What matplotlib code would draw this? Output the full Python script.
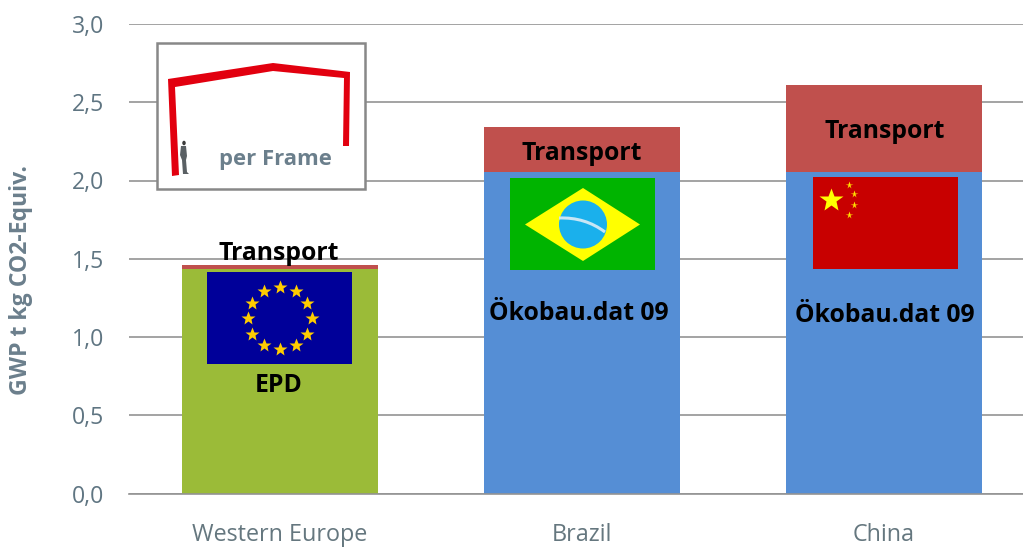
import numpy as np
import matplotlib
matplotlib.use("Agg")
import matplotlib.pyplot as plt
from matplotlib.patches import Rectangle, Polygon, Circle, Ellipse
from matplotlib.path import Path
from matplotlib.patches import PathPatch

categories = ["Western Europe", "Brazil", "China"]
base_values = [1.435, 2.055, 2.055]
transport_values = [0.025, 0.285, 0.555]
base_colors = ["#9bbb38", "#558ed5", "#558ed5"]
transport_color = "#c0504d"
y_ticks = [0.0, 0.5, 1.0, 1.5, 2.0, 2.5, 3.0]
y_tick_labels = ["0,0", "0,5", "1,0", "1,5", "2,0", "2,5", "3,0"]
y_label = "GWP t kg CO2-Equiv."
transport_label = "Transport"
base_labels = ["EPD", "Ökobau.dat 09", "Ökobau.dat 09"]
frame_label = "per Frame"

W, H = 1023, 547
plt.rcParams['font.family'] = ['Open Sans', 'DejaVu Sans']
fig = plt.figure(figsize=(W / 100, H / 100), dpi=100, facecolor="white")

# main axes: pixel extents from the reference
left, right, top, bottom = 129.0, 1023, 24.0, 493.5
ax = fig.add_axes([left / W, 1 - bottom / H, (right - left) / W, (bottom - top) / H])
ax.set_xlim(-0.5, (right - left) / 302 - 0.5)
ax.set_ylim(0, 3.0)
x = np.arange(len(categories))
ax.set_axisbelow(True)
ax.yaxis.grid(True, color="#939393", lw=1.2)
ax.xaxis.grid(False)
for s in ["top", "right", "left"]:
    ax.spines[s].set_visible(False)
ax.spines["bottom"].set_color("#939393")
ax.spines["bottom"].set_linewidth(1.2)
ax.bar(x, base_values, width=0.646, color=base_colors, zorder=2)
ax.bar(x, transport_values, width=0.646, bottom=base_values, color=transport_color, zorder=2)
ax.set_yticks(y_ticks, y_tick_labels)
ax.set_xticks(x, categories)
ax.tick_params(axis="both", length=0, colors="#5f7582", labelsize=16.6)
ax.tick_params(axis="y", pad=18)
ax.tick_params(axis="x", pad=21.5, labelsize=16.8)
for t in ax.get_xticklabels():
    t.set_color("#65777f")

# overlay in reference pixels for pasted pictures
ov = fig.add_axes([0, 0, 1, 1], facecolor="none")
ov.set_xlim(0, W)
ov.set_ylim(H, 0)
ov.axis("off")

ov.text(21, 280, y_label, rotation=90, ha="center", va="center",
        fontsize=16.6, fontweight="bold", color="#6b7f8c")

# frame inset
ov.add_patch(Rectangle((157, 43), 208, 146, fc="white", ec="#888888", lw=1.8, zorder=3))
ov.add_patch(Polygon([(168, 79), (273, 63), (350, 72), (349, 146), (343, 146), (344, 78),
                      (273, 71), (175, 87), (179, 175), (172, 176)],
                     closed=True, fc="#e2000f", ec="none", zorder=4))
ov.add_patch(Ellipse((184, 143), 3.5, 4.5, fc="#3c3c3c", ec="none", zorder=4))
ov.add_patch(Polygon([(181, 146), (186, 146), (187, 156), (186, 160), (187, 172), (189, 174),
                      (183, 174), (182, 160), (180, 155)],
                     closed=True, fc="#5a6064", ec="none", zorder=4))
ov.text(275, 160, frame_label, ha="center", va="center", fontsize=15.9,
        fontweight="bold", color="#6b7f8c", zorder=5)

# EU flag
ov.add_patch(Rectangle((207, 272), 145, 92, fc="#000099", ec="none", zorder=3))
ang = np.deg2rad(np.arange(0, 360, 30))
ov.plot(279.5 + 32 * np.cos(ang), 318 + 31 * np.sin(ang), ls="none", marker="*",
        ms=10, mfc="#ffcc00", mec="none", zorder=4)

# Brazil flag
ov.add_patch(Rectangle((510, 178), 145, 92, fc="#00b400", ec="none", zorder=3))
ov.add_patch(Polygon([(525, 224.5), (583, 188), (640, 224.5), (583, 261)], closed=True,
                     fc="#ffff00", ec="none", zorder=4))
ov.add_patch(Circle((583, 224.5), 24, fc="#1ab0ec", ec="none", zorder=5))
ov.add_patch(PathPatch(Path([(559, 218), (585, 217), (605, 232)],
                            [Path.MOVETO, Path.CURVE3, Path.CURVE3]),
                       fc="none", ec="#c8e6f5", lw=2.2, zorder=6))

# China flag
ov.add_patch(Rectangle((813, 177), 145, 92, fc="#c80000", ec="none", zorder=3))
ov.plot([831], [200], ls="none", marker="*", ms=18, mfc="#ffff00", mec="none", zorder=4)
ov.plot([849, 854, 854, 849], [185, 194, 205, 215], ls="none", marker="*", ms=5.5,
        mfc="#ffe000", mec="none", zorder=4)

# labels on bars
label_kw = dict(ha="center", va="center", fontsize=17.8, fontweight="bold", color="black", zorder=7)
for px, py in [(279, 254), (582, 154), (885, 132)]:
    ov.text(px, py, transport_label, **label_kw)
for (px, py), s in zip([(279, 386), (579, 314), (885, 316)], base_labels):
    ov.text(px, py, s, **label_kw)

fig.savefig("out.png", dpi=100, facecolor="white")
